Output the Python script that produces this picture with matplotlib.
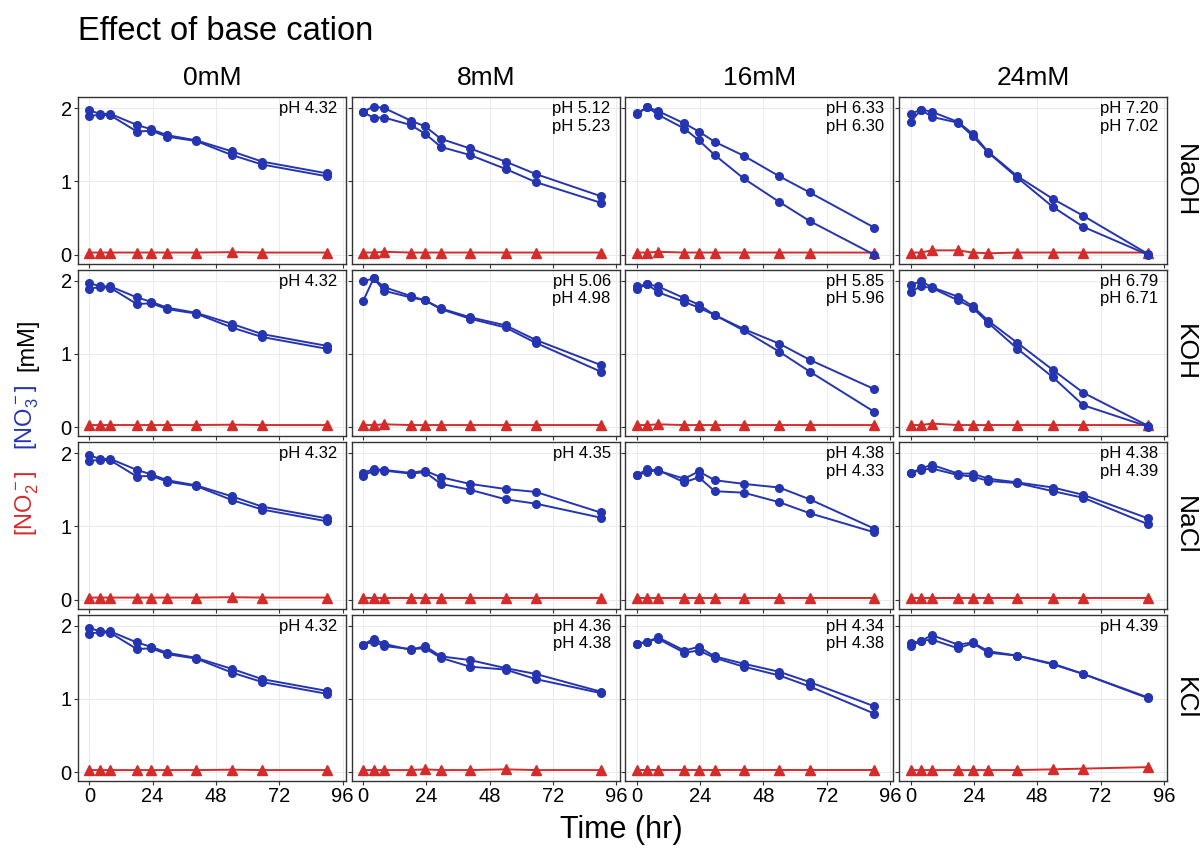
import numpy as np
import matplotlib
matplotlib.use('Agg')
import matplotlib.pyplot as plt

plt.rcParams['font.family'] = ['Liberation Sans', 'DejaVu Sans']
plt.rcParams['mathtext.default'] = 'regular'

# sampling times (hr)
times = [0, 4, 8, 18, 23.5, 29.5, 40.5, 54, 65.5, 90]

cations = ['NaOH', 'KOH', 'NaCl', 'KCl']
concs = ['0mM', '8mM', '16mM', '24mM']

# control (0mM), same for every row
ctrl_a = [1.97, 1.92, 1.92, 1.77, 1.71, 1.63, 1.56, 1.41, 1.27, 1.11]
ctrl_b = [1.89, 1.91, 1.90, 1.68, 1.69, 1.61, 1.55, 1.36, 1.23, 1.07]
ctrl_no2 = [0.03, 0.03, 0.03, 0.03, 0.03, 0.03, 0.03, 0.035, 0.03, 0.03]

# nitrate replicate a / b, columns 8, 16, 24 mM
naoh_a = [[1.95, 2.02, 2.00, 1.83, 1.75, 1.58, 1.45, 1.27, 1.10, 0.80],
          [1.92, 2.01, 1.96, 1.79, 1.68, 1.54, 1.35, 1.07, 0.85, 0.37],
          [1.92, 1.98, 1.95, 1.81, 1.65, 1.40, 1.07, 0.76, 0.53, 0.01]]
naoh_b = [[1.94, 1.87, 1.87, 1.77, 1.65, 1.47, 1.36, 1.17, 0.99, 0.71],
          [1.93, 2.01, 1.91, 1.72, 1.56, 1.36, 1.04, 0.72, 0.46, 0.00],
          [1.81, 1.98, 1.88, 1.80, 1.62, 1.39, 1.05, 0.65, 0.38, 0.00]]
koh_a = [[1.99, 2.03, 1.91, 1.79, 1.73, 1.62, 1.50, 1.39, 1.19, 0.85],
         [1.92, 1.95, 1.92, 1.76, 1.67, 1.53, 1.34, 1.14, 0.92, 0.52],
         [1.94, 1.99, 1.91, 1.78, 1.65, 1.45, 1.15, 0.78, 0.47, 0.02]]
koh_b = [[1.72, 2.03, 1.86, 1.77, 1.73, 1.61, 1.48, 1.36, 1.15, 0.76],
         [1.89, 1.95, 1.84, 1.71, 1.63, 1.53, 1.32, 1.03, 0.76, 0.21],
         [1.85, 1.92, 1.90, 1.73, 1.63, 1.42, 1.07, 0.68, 0.30, 0.01]]
nacl_a = [[1.73, 1.78, 1.77, 1.73, 1.76, 1.67, 1.58, 1.51, 1.47, 1.19],
          [1.70, 1.78, 1.76, 1.65, 1.75, 1.63, 1.58, 1.53, 1.37, 0.97],
          [1.73, 1.79, 1.84, 1.72, 1.72, 1.65, 1.60, 1.53, 1.43, 1.11]]
nacl_b = [[1.69, 1.76, 1.76, 1.72, 1.74, 1.58, 1.50, 1.37, 1.31, 1.12],
          [1.70, 1.74, 1.77, 1.60, 1.67, 1.48, 1.46, 1.33, 1.18, 0.92],
          [1.73, 1.77, 1.79, 1.70, 1.68, 1.62, 1.59, 1.48, 1.39, 1.03]]
kcl_a = [[1.74, 1.82, 1.75, 1.67, 1.72, 1.58, 1.53, 1.42, 1.34, 1.10],
         [1.75, 1.78, 1.84, 1.66, 1.71, 1.58, 1.48, 1.37, 1.23, 0.90],
         [1.76, 1.79, 1.87, 1.74, 1.77, 1.65, 1.59, 1.48, 1.34, 1.02]]
kcl_b = [[1.74, 1.78, 1.72, 1.68, 1.69, 1.56, 1.44, 1.40, 1.27, 1.08],
         [1.75, 1.78, 1.82, 1.63, 1.66, 1.56, 1.44, 1.32, 1.17, 0.80],
         [1.72, 1.79, 1.81, 1.69, 1.76, 1.63, 1.59, 1.47, 1.34, 1.01]]

# nitrite
naoh_no2 = [[0.03, 0.03, 0.04, 0.03, 0.03, 0.03, 0.03, 0.03, 0.03, 0.03],
            [0.03, 0.03, 0.04, 0.03, 0.03, 0.03, 0.03, 0.03, 0.03, 0.03],
            [0.03, 0.03, 0.06, 0.06, 0.03, 0.02, 0.03, 0.03, 0.03, 0.03]]
koh_no2 = [[0.03, 0.03, 0.04, 0.03, 0.03, 0.03, 0.03, 0.03, 0.03, 0.03],
           [0.03, 0.03, 0.04, 0.03, 0.03, 0.03, 0.03, 0.03, 0.03, 0.03],
           [0.03, 0.03, 0.05, 0.03, 0.03, 0.03, 0.03, 0.03, 0.03, 0.03]]
nacl_no2 = [[0.03, 0.03, 0.03, 0.03, 0.03, 0.03, 0.03, 0.03, 0.03, 0.03],
            [0.03, 0.03, 0.03, 0.03, 0.03, 0.03, 0.03, 0.03, 0.03, 0.03],
            [0.03, 0.03, 0.03, 0.03, 0.03, 0.03, 0.03, 0.03, 0.03, 0.03]]
kcl_no2 = [[0.03, 0.03, 0.03, 0.03, 0.04, 0.03, 0.03, 0.04, 0.03, 0.03],
           [0.03, 0.03, 0.03, 0.03, 0.03, 0.03, 0.03, 0.03, 0.03, 0.03],
           [0.03, 0.03, 0.03, 0.03, 0.03, 0.03, 0.03, 0.04, 0.05, 0.07]]

ph_labels = [['pH 4.32', 'pH 5.12\npH 5.23', 'pH 6.33\npH 6.30', 'pH 7.20\npH 7.02'],
             ['pH 4.32', 'pH 5.06\npH 4.98', 'pH 5.85\npH 5.96', 'pH 6.79\npH 6.71'],
             ['pH 4.32', 'pH 4.35', 'pH 4.38\npH 4.33', 'pH 4.38\npH 4.39'],
             ['pH 4.32', 'pH 4.36\npH 4.38', 'pH 4.34\npH 4.38', 'pH 4.39']]

no3_a = [naoh_a, koh_a, nacl_a, kcl_a]
no3_b = [naoh_b, koh_b, nacl_b, kcl_b]
no2 = [naoh_no2, koh_no2, nacl_no2, kcl_no2]

blue = '#2535B2'
red = '#D42B2B'

fig, axes = plt.subplots(4, 4, figsize=(12, 8.49), dpi=100, sharex=True, sharey=True)
fig.subplots_adjust(left=0.065, right=0.9725, top=0.8857, bottom=0.080,
                    wspace=0.0224, hspace=0.036)

for i in range(4):
    for j in range(4):
        ax = axes[i, j]
        if j == 0:
            a, b, n = ctrl_a, ctrl_b, ctrl_no2
        else:
            a, b, n = no3_a[i][j-1], no3_b[i][j-1], no2[i][j-1]
        ax.plot(times, n, color=red, lw=1.4, marker='^', ms=6.5, zorder=3)
        ax.plot(times, a, color=blue, lw=1.4, marker='o', ms=5.5, zorder=4)
        ax.plot(times, b, color=blue, lw=1.4, marker='o', ms=5.5, zorder=4)
        ax.text(0.967, 0.975, ph_labels[i][j], transform=ax.transAxes, ha='right',
                va='top', fontsize=12, linespacing=1.2)
        ax.set_xlim(-4.3, 97.2)
        ax.set_ylim(-0.12, 2.15)
        ax.set_xticks([0, 24, 48, 72, 96])
        ax.set_yticks([0, 1, 2])
        ax.grid(True, color='#EBEBEB', lw=0.7)
        ax.set_axisbelow(True)
        for s in ax.spines.values():
            s.set_color('#333333')
            s.set_linewidth(1.0)
        ax.tick_params(colors='#333333', labelcolor='black', labelsize=14.5,
                       length=3, width=0.8, pad=1.5)
        if i == 0:
            ax.text(0.5, 1.114, concs[j], transform=ax.transAxes, ha='center',
                    va='center', fontsize=19)
        if j == 3:
            ax.text(1.067, 0.5, cations[i], transform=ax.transAxes, ha='center',
                    va='center', rotation=-90, fontsize=19)

fig.text(0.065, 0.953, 'Effect of base cation', fontsize=23.5, ha='left', va='baseline')
fig.text(0.518, 0.022, 'Time (hr)', fontsize=22, ha='center', va='center')

# multicolour y label
fig.text(0.023, 0.407, '[NO$_2^-$]', color=red, rotation=90, fontsize=17, ha='center', va='center')
fig.text(0.023, 0.509, '[NO$_3^-$]', color=blue, rotation=90, fontsize=17, ha='center', va='center')
fig.text(0.023, 0.594, '[mM]', color='black', rotation=90, fontsize=17, ha='center', va='center')

fig.savefig('out.png', dpi=100)
